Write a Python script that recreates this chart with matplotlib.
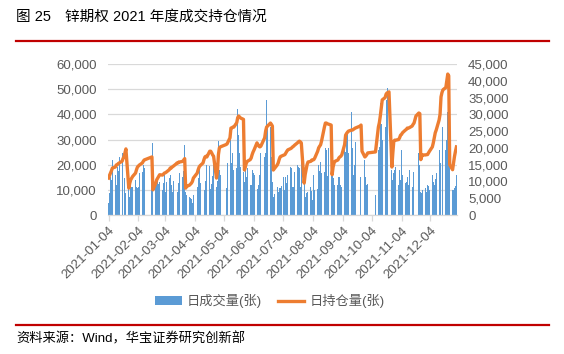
import matplotlib
matplotlib.use('Agg')
import matplotlib.pyplot as plt
import matplotlib.dates as mdates
from matplotlib.ticker import FuncFormatter, MultipleLocator
from matplotlib.patches import Patch
from matplotlib.lines import Line2D
import numpy as np
import pandas as pd

plt.rcParams['font.family'] = ['Liberation Sans', 'Noto Sans CJK SC']

title_num = '图 25'
title_text = '锌期权 2021 年度成交持仓情况'
source_text = '资料来源：Wind，华宝证券研究创新部'
series_names = ['日成交量(张)', '日持仓量(张)']

holidays = ['2021-02-11', '2021-02-12', '2021-02-15', '2021-02-16', '2021-02-17',
            '2021-04-05', '2021-05-03', '2021-05-04', '2021-05-05', '2021-06-14',
            '2021-09-20', '2021-09-21', '2021-10-01', '2021-10-04', '2021-10-05',
            '2021-10-06', '2021-10-07']

# daily volume (contracts), left axis
vol_jan = [4800, 8700, 15100, 13900, 21800, 15900, 11900, 19000, 17500, 23000, 24600, 15900, 15500, 14800, 8700, 15900, 7100, 11900, 11000, 11100]
vol_feb = [13900, 11100, 10800, 11300, 16700, 17100, 19800, 18500, 14700, 28600, 12700, 11800, 15100, 12500, 13000]
vol_mar = [9900, 12700, 15900, 9100, 13100, 14700, 15900, 11800, 9100, 13500, 15100, 14800, 9100, 12700, 16700, 15000, 17500, 27800, 9100, 7900, 7100, 6700, 6200]
vol_apr = [4800, 8000, 11100, 14700, 18700, 12700, 13900, 19800, 9900, 13500, 19800, 19600, 10500, 12500, 15500, 20000, 11000, 13500, 29400, 17700, 16000]
vol_may = [10700, 20600, 35700, 34900, 20600, 24600, 18000, 18700, 42100, 31800, 24600, 19000, 17100, 13100, 18700, 15000, 18700, 11900]
vol_jun = [11900, 17900, 16700, 16000, 11500, 10500, 12000, 15900, 24600, 23000, 24600, 45700, 35700, 35000, 23000, 13000, 7100, 8500, 11100, 9100, 10700]
vol_jul = [10700, 11500, 15100, 9900, 15100, 12700, 16000, 19000, 18500, 11000, 11100, 17100, 19800, 19000, 18500, 11000, 21800, 15000, 7100, 8700, 9100, 7000]
vol_aug = [11100, 9500, 6000, 15900, 10000, 10500, 19800, 17500, 21000, 16500, 17100, 26600, 25800, 15500, 26600, 15900, 20600, 14700, 11900, 7900, 12000, 15100]
vol_sep = [15100, 11900, 11000, 25800, 25000, 33000, 33000, 24600, 40900, 26600, 15900, 19800, 29000, 15100, 25000, 22600, 21800, 15000, 11900, 12500]
vol_oct = [7900, 25800, 27000, 44500, 36000, 30000, 35000, 45700, 50400, 41700, 29800, 17900, 13900, 16700, 17900, 19000]
vol_nov = [11900, 17900, 14000, 25800, 16000, 12700, 13000, 15100, 12000, 17900, 11100, 17100, 20600, 26600, 18000, 24600, 20000, 9100, 8700, 10000, 10700, 9000]
vol_dec = [11900, 11500, 10000, 15900, 13000, 12000, 14500, 16700, 25800, 20600, 32500, 21000, 34900, 25800, 29800, 40900, 29800, 22600, 9900, 9900, 10700, 11500, 15900]

# daily open interest (contracts), right axis
oi_jan = [11000, 11800, 12500, 13200, 14000, 14300, 14900, 15000, 15300, 15500, 16000, 16800, 17300, 18500, 19700, 8000, 9500, 10500, 11000, 11500]
oi_feb = [12500, 13500, 14300, 14600, 14900, 15500, 16000, 16400, 17300, 7500, 9500, 10500, 11000, 11500, 12000]
oi_mar = [11900, 12200, 12500, 12600, 12800, 13500, 14000, 14000, 14300, 14500, 15200, 15500, 15500, 15800, 15800, 16000, 16400, 16800, 8000, 8500, 8900, 9200, 9500]
oi_apr = [10000, 11000, 12500, 13500, 14300, 14700, 15500, 16500, 17300, 17500, 17300, 19000, 19000, 18500, 17900, 17500, 11000, 13000, 18000, 20000, 20300]
oi_may = [21000, 21200, 23000, 25900, 26000, 26200, 26200, 27500, 29000, 29500, 29200, 28900, 28500, 13400, 14500, 15500, 16000, 16500]
oi_jun = [17000, 18000, 18800, 19400, 21500, 21000, 20500, 20300, 20500, 23000, 25000, 26200, 26500, 27400, 27000, 26500, 13400, 13800, 14900, 15500, 16500]
oi_jul = [17300, 17500, 17900, 18000, 18500, 19000, 19400, 19800, 20000, 20300, 20500, 20800, 21500, 21800, 22000, 21800, 21500, 9500, 12000, 13500, 15000, 15800]
oi_aug = [16000, 16400, 16400, 16500, 17000, 19000, 20000, 20500, 20900, 22000, 26200, 27400, 27400, 27200, 27100, 26800, 12000, 14300, 15500, 16000, 16400, 17000]
oi_sep = [17300, 17500, 17900, 21000, 23800, 24300, 24700, 25000, 25300, 25300, 25500, 25700, 25900, 26500, 26800, 19000, 17300, 17600, 18000, 18500]
oi_oct = [18800, 26200, 27500, 29500, 32000, 34300, 35000, 36000, 36400, 36500, 36700, 14300, 18500, 22000, 22300, 22300]
oi_nov = [22500, 23000, 23800, 24000, 24500, 25300, 25500, 25900, 25900, 26000, 26500, 27000, 27400, 28500, 29500, 30400, 30200, 16500, 17500, 17900, 17900, 18000]
oi_dec = [18000, 18500, 19000, 20300, 21500, 23000, 24500, 25300, 28300, 30000, 35200, 36500, 37300, 38000, 40000, 42000, 41500, 15000, 13500, 15500, 17500, 19000, 20300]

volume = np.array(vol_jan + vol_feb + vol_mar + vol_apr + vol_may + vol_jun +
                  vol_jul + vol_aug + vol_sep + vol_oct + vol_nov + vol_dec)
open_int = np.array(oi_jan + oi_feb + oi_mar + oi_apr + oi_may + oi_jun +
                    oi_jul + oi_aug + oi_sep + oi_oct + oi_nov + oi_dec)

days = pd.bdate_range('2021-01-04', '2021-12-31')
days = days[~days.isin(pd.to_datetime(holidays))]
assert len(days) == len(volume) == len(open_int)

bar_color = '#5B9BD5'
line_color = '#ED7D31'
text_color = '#595959'
grid_color = '#D9D9D9'
red = '#C00000'

W, H = 564, 354
fig = plt.figure(figsize=(W / 100, H / 100), dpi=100)
ax = fig.add_axes([108 / W, 1 - 215 / H, (457 - 108) / W, (215 - 64) / H])
ax2 = ax.twinx()

ax.bar(days, volume, width=0.95, color=bar_color, zorder=2)
ax2.plot(days, open_int, color=line_color, lw=2.4, solid_joinstyle='round', zorder=3)

ax.set_ylim(0, 60000)
ax2.set_ylim(0, 45000)
ax.yaxis.set_major_locator(MultipleLocator(10000))
ax2.yaxis.set_major_locator(MultipleLocator(5000))
fmt = FuncFormatter(lambda v, p: f'{int(v):,}')
ax.yaxis.set_major_formatter(fmt)
ax2.yaxis.set_major_formatter(fmt)

ax.set_xlim(days[0] - pd.Timedelta(hours=14), days[-1] + pd.Timedelta(hours=14))
ax.xaxis.set_major_locator(mdates.MonthLocator(bymonthday=4))
ax.xaxis.set_major_formatter(mdates.DateFormatter('%Y-%m-%d'))

ax.yaxis.grid(True, color=grid_color, lw=0.9)
ax.set_axisbelow(True)
for a in (ax, ax2):
    for s in a.spines.values():
        s.set_visible(False)
ax.spines['bottom'].set_visible(True)
ax.spines['bottom'].set_color(grid_color)
ax.spines['bottom'].set_linewidth(0.9)

ax.tick_params(axis='y', length=0, pad=8, labelsize=9.5, labelcolor=text_color)
ax2.tick_params(axis='y', length=0, pad=8, labelsize=9.5, labelcolor=text_color)
ax.tick_params(axis='x', length=4, color=grid_color, width=0.9, pad=3,
               labelsize=9.5, labelcolor=text_color)
for lab in ax.get_xticklabels():
    lab.set_rotation(45)
    lab.set_ha('right')
    lab.set_rotation_mode('anchor')

handles = [Patch(facecolor=bar_color, edgecolor='none'),
           Line2D([0], [0], color=line_color, lw=2.4)]
fig.legend(handles, series_names, loc='center', bbox_to_anchor=(270 / W, 1 - 301 / H),
           ncol=2, frameon=False, fontsize=9.5, labelcolor=text_color,
           handlelength=2.0, handleheight=0.6, columnspacing=1.2, handletextpad=0.4)

fig.text(16 / W, 1 - 17 / H, title_num, fontsize=10.5, color='black', va='center', ha='left')
fig.text(65 / W, 1 - 17 / H, title_text, fontsize=10.5, color='black', va='center', ha='left')
fig.add_artist(Line2D([16 / W, 549 / W], [1 - 41 / H] * 2, color=red, lw=1.6))
fig.add_artist(Line2D([16 / W, 549 / W], [1 - 325 / H] * 2, color=red, lw=1.6))
fig.text(16 / W, 1 - 339 / H, source_text, fontsize=9.5, color='black', va='center', ha='left')

fig.savefig('out.png', dpi=100)
